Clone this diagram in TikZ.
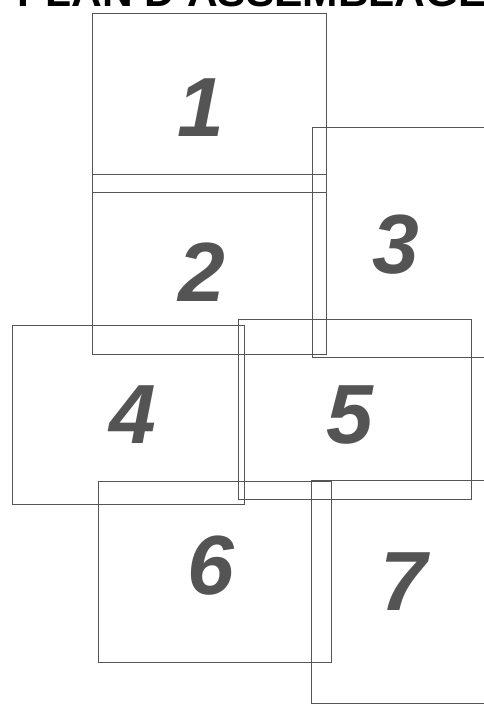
\documentclass[tikz,border=0pt]{standalone}
\usepackage{fontspec}
\setmainfont{Liberation Sans}
\definecolor{edge}{HTML}{555555}
\definecolor{digit}{HTML}{545454}
\begin{document}
\begin{tikzpicture}[x=1pt,y=-1pt,
  sheet/.style={draw=edge,line width=0.7pt},
  num/.style={text=digit,font=\fontsize{84}{84}\selectfont\bfseries\itshape,inner sep=0pt},
  title/.style={font=\fontsize{42.5}{42.5}\selectfont\bfseries,inner sep=0pt,anchor=base west}]
\useasboundingbox (0,0) rectangle (484,706);
\node[title] (t) at (17,7) {PLAN D'ASSEMBLAGE};
% sheets
\draw[sheet] (92,13) rectangle (326,192);
\draw[sheet] (92,174) rectangle (326,354);
\draw[sheet] (312,127) rectangle (490,357);
\draw[sheet] (12,325) rectangle (244,504);
\draw[sheet] (238,319) rectangle (471,499);
\draw[sheet] (98,481) rectangle (331,662);
\draw[sheet] (311,480) rectangle (490,703);
% numbers
\node[num] (n1) at (201,108) {1};
\node[num] (n2) at (202,272) {2};
\node[num] (n3) at (396,245) {3};
\node[num] (n4) at (133,415) {4};
\node[num] (n5) at (350,415) {5};
\node[num] (n6) at (211,566) {6};
\node[num] (n7) at (404,582) {7};
\end{tikzpicture}
\end{document}
